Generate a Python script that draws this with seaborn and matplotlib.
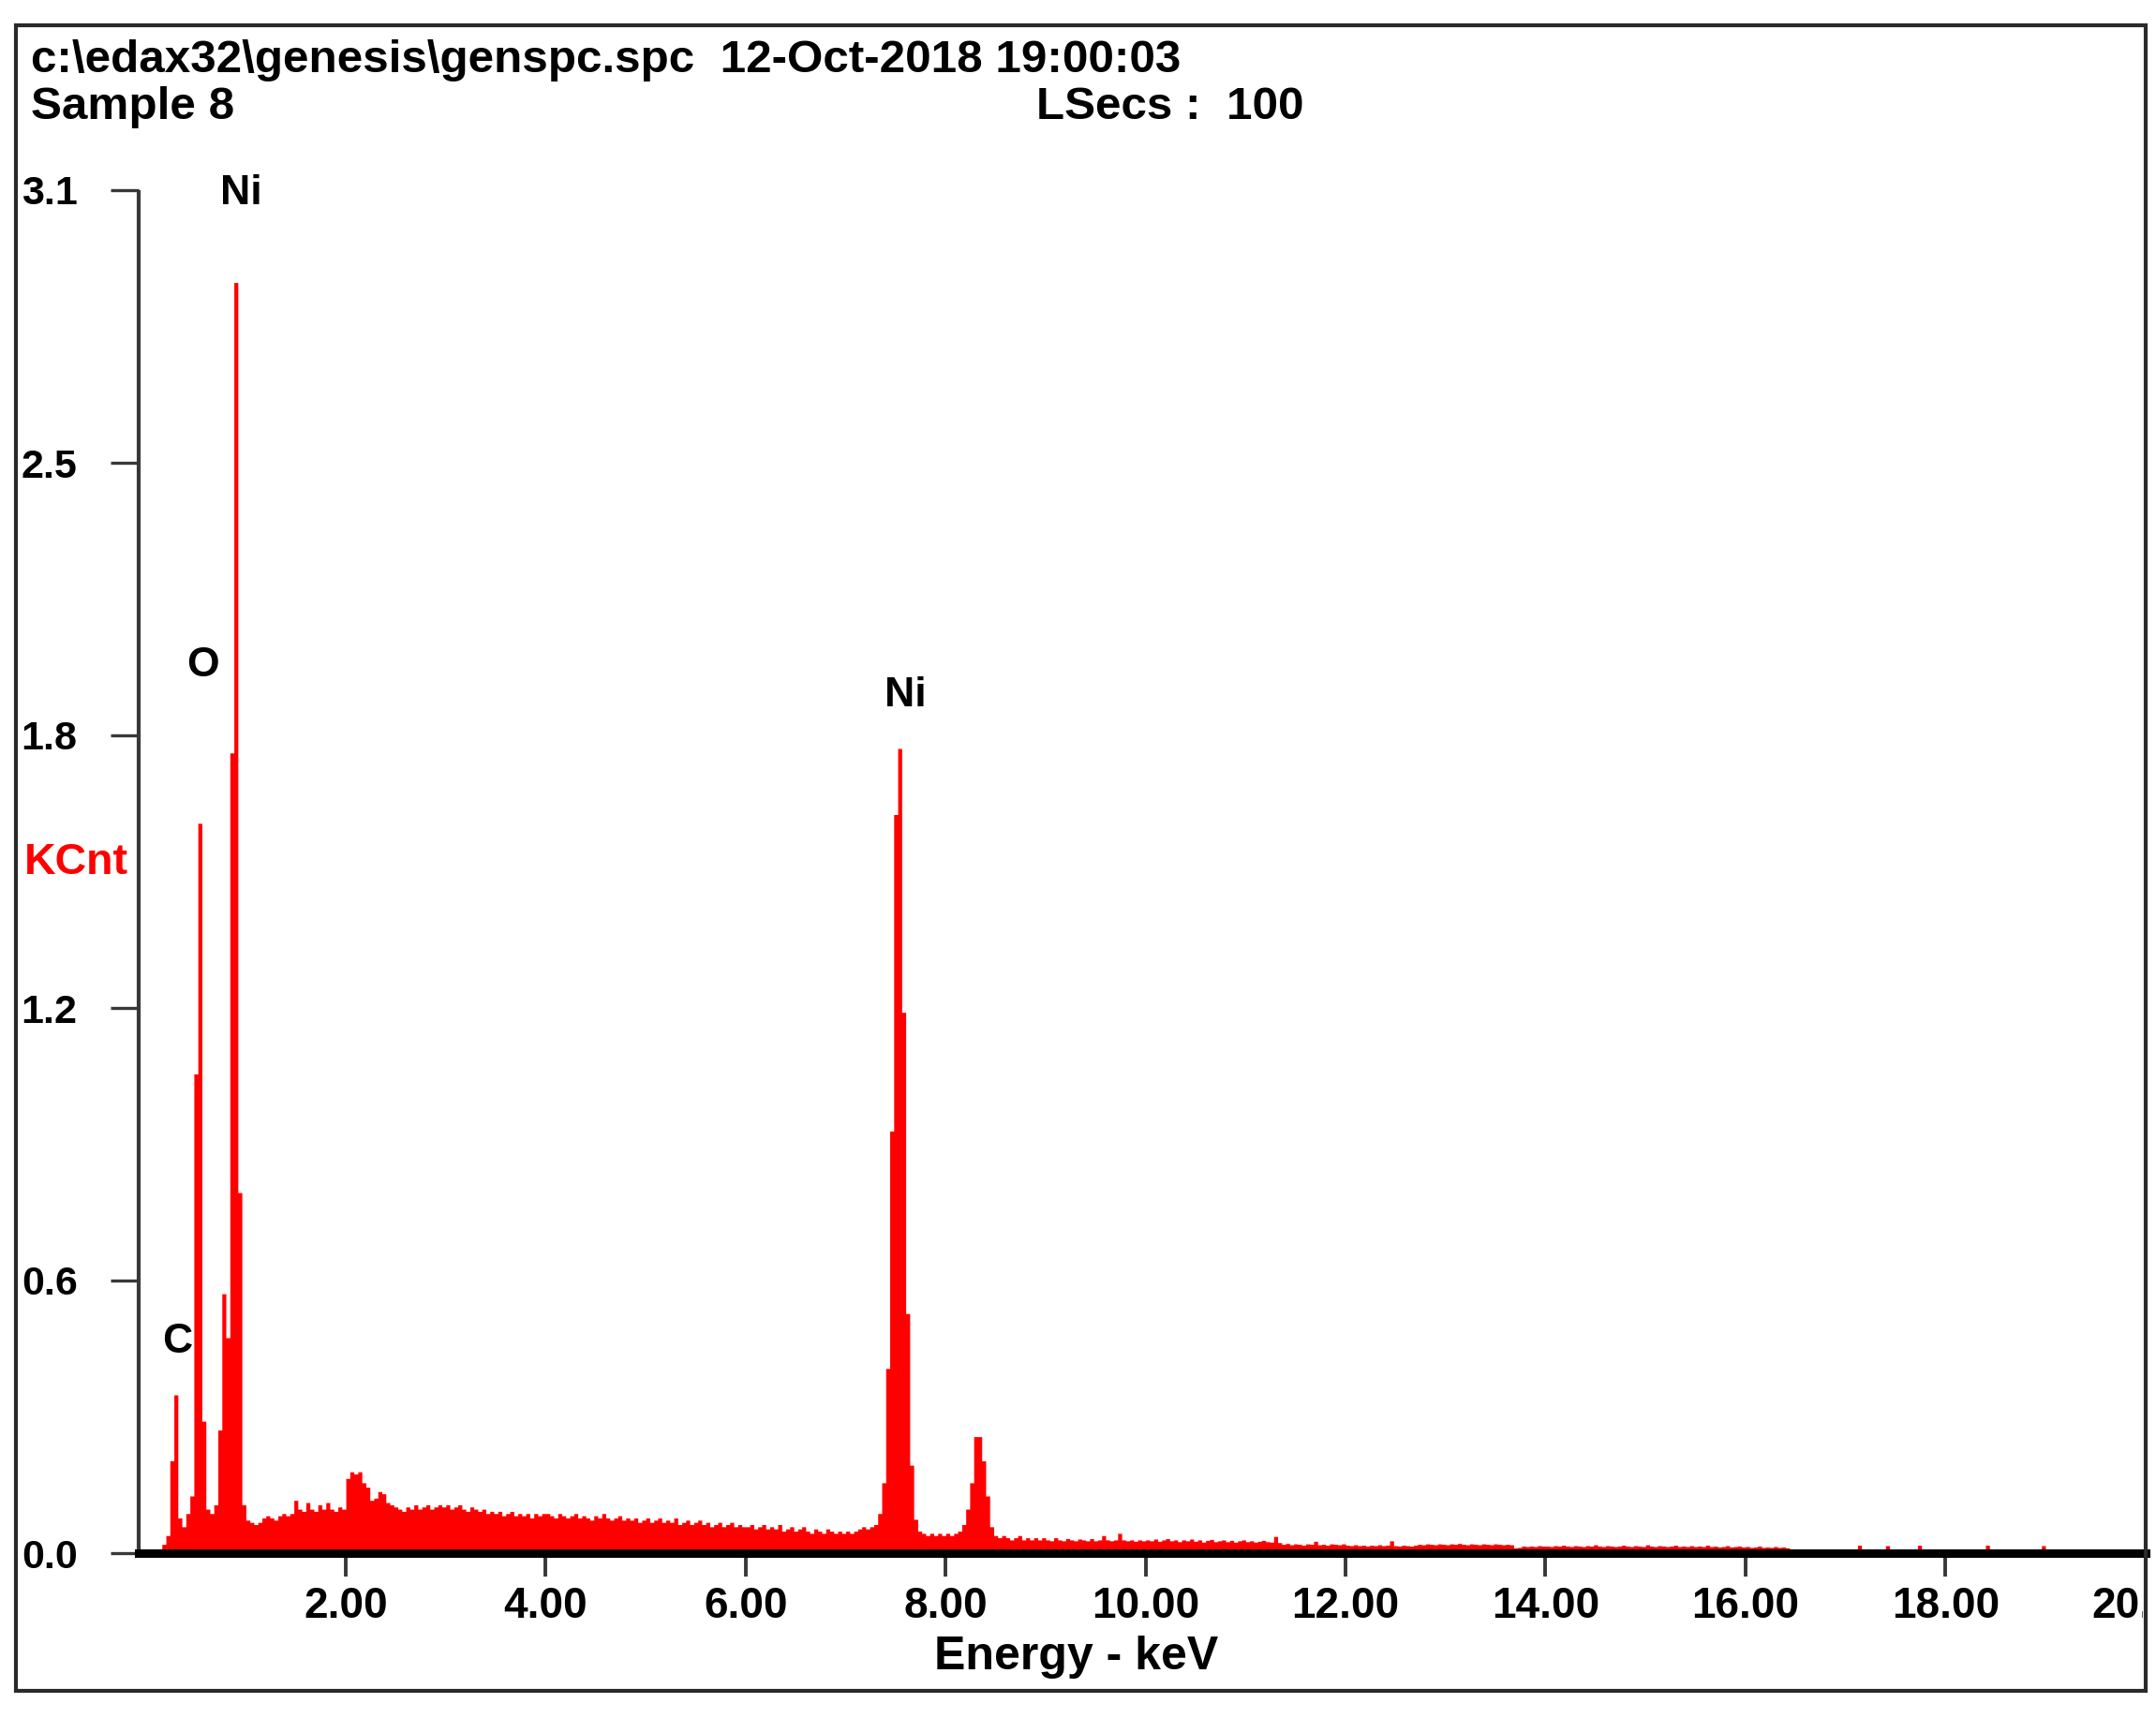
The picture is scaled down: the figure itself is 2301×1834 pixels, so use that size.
import numpy as np
import pandas as pd
import matplotlib
matplotlib.use("Agg")
import matplotlib.pyplot as plt
import seaborn as sns
from matplotlib.patches import Rectangle
from matplotlib.transforms import Bbox, TransformedBbox

# ---------------- data (KCnt per 0.04 keV channel) ----------------
CHANNEL_KEV = 0.04

kcnt_00_02 = [0, 0, 0, 0.005, 0.02, 0.04, 0.21, 0.36, 0.08, 0.06,
              0.09, 0.13, 1.09, 1.66, 0.30, 0.10, 0.09, 0.11, 0.28, 0.59,
              0.49, 1.82, 2.89, 0.82, 0.11, 0.075, 0.07, 0.065, 0.07, 0.08,
              0.085, 0.08, 0.075, 0.085, 0.09, 0.085, 0.09, 0.12, 0.10, 0.095,
              0.115, 0.10, 0.095, 0.11, 0.10, 0.115, 0.10, 0.095, 0.105, 0.10]
kcnt_02_04 = [0.17, 0.185, 0.18, 0.185, 0.16, 0.15, 0.12, 0.125, 0.14, 0.135,
              0.115, 0.11, 0.105, 0.10, 0.095, 0.105, 0.10, 0.11, 0.10, 0.105,
              0.11, 0.10, 0.105, 0.11, 0.105, 0.11, 0.10, 0.105, 0.11, 0.10,
              0.095, 0.105, 0.10, 0.095, 0.10, 0.09, 0.095, 0.09, 0.095, 0.085,
              0.09, 0.095, 0.085, 0.09, 0.085, 0.09, 0.08, 0.09, 0.085, 0.09]
kcnt_04_06 = [0.09, 0.085, 0.08, 0.09, 0.085, 0.08, 0.085, 0.09, 0.08, 0.085,
              0.08, 0.075, 0.085, 0.08, 0.09, 0.08, 0.075, 0.08, 0.085, 0.075,
              0.08, 0.075, 0.08, 0.07, 0.075, 0.08, 0.07, 0.075, 0.08, 0.07,
              0.075, 0.07, 0.08, 0.065, 0.07, 0.075, 0.065, 0.07, 0.075, 0.065,
              0.07, 0.06, 0.065, 0.07, 0.06, 0.065, 0.07, 0.06, 0.065, 0.06]
kcnt_06_08 = [0.06, 0.065, 0.055, 0.06, 0.065, 0.055, 0.06, 0.055, 0.065, 0.05,
              0.055, 0.06, 0.05, 0.055, 0.06, 0.05, 0.045, 0.055, 0.05, 0.045,
              0.055, 0.05, 0.045, 0.05, 0.045, 0.05, 0.045, 0.05, 0.055, 0.06,
              0.055, 0.06, 0.065, 0.09, 0.16, 0.42, 0.96, 1.68, 1.83, 1.23,
              0.545, 0.20, 0.077, 0.05, 0.045, 0.04, 0.045, 0.04, 0.045, 0.04]
kcnt_08_10 = [0.045, 0.04, 0.045, 0.05, 0.065, 0.10, 0.16, 0.265, 0.265, 0.21,
              0.13, 0.06, 0.04, 0.035, 0.04, 0.035, 0.03, 0.035, 0.04, 0.03,
              0.035, 0.03, 0.035, 0.03, 0.035, 0.03, 0.028, 0.035, 0.03, 0.028,
              0.033, 0.03, 0.028, 0.032, 0.03, 0.028, 0.033, 0.028, 0.03, 0.04,
              0.03, 0.028, 0.03, 0.045, 0.03, 0.028, 0.03, 0.027, 0.03, 0.028]
kcnt_10_12 = [0.03, 0.028, 0.032, 0.027, 0.03, 0.033, 0.028, 0.03, 0.026, 0.03,
              0.028, 0.032, 0.027, 0.03, 0.025, 0.029, 0.031, 0.026, 0.028, 0.03,
              0.026, 0.029, 0.025, 0.028, 0.03, 0.026, 0.028, 0.025, 0.027, 0.029,
              0.026, 0.025, 0.038, 0.024, 0.02, 0.022, 0.019, 0.021, 0.02, 0.018,
              0.021, 0.02, 0.027, 0.019, 0.02, 0.018, 0.021, 0.02, 0.019, 0.021]
kcnt_12_14 = [0.018, 0.017, 0.019, 0.017, 0.018, 0.016, 0.018, 0.017, 0.019, 0.017,
              0.018, 0.028, 0.017, 0.016, 0.018, 0.017, 0.016, 0.018, 0.02, 0.019,
              0.021, 0.02, 0.019, 0.021, 0.02, 0.019, 0.021, 0.02, 0.022, 0.02,
              0.019, 0.021, 0.02, 0.019, 0.021, 0.02, 0.019, 0.021, 0.02, 0.019,
              0.02, 0.019, 0.012, 0.013, 0.016, 0.015, 0.016, 0.015, 0.017, 0.016]
kcnt_14_16 = [0.016, 0.015, 0.017, 0.016, 0.018, 0.016, 0.015, 0.017, 0.016, 0.015,
              0.017, 0.016, 0.019, 0.016, 0.015, 0.017, 0.016, 0.015, 0.016, 0.018,
              0.016, 0.015, 0.017, 0.016, 0.015, 0.019, 0.016, 0.015, 0.017, 0.016,
              0.015, 0.016, 0.018, 0.015, 0.016, 0.015, 0.017, 0.015, 0.016, 0.015,
              0.018, 0.015, 0.016, 0.014, 0.015, 0.017, 0.014, 0.015, 0.016, 0.014]
kcnt_16_18 = [0.015, 0.013, 0.014, 0.016, 0.013, 0.014, 0.013, 0.015, 0.013, 0.014,
              0.012, 0, 0, 0, 0, 0, 0, 0, 0, 0,
              0, 0, 0, 0, 0, 0, 0, 0, 0.018, 0,
              0, 0, 0, 0, 0, 0.017, 0, 0, 0, 0,
              0, 0, 0, 0.018, 0, 0, 0, 0, 0, 0]
kcnt_18_20 = [0, 0, 0, 0, 0, 0, 0, 0, 0, 0,
              0.018, 0, 0, 0, 0, 0, 0, 0, 0, 0,
              0, 0, 0, 0, 0.017, 0, 0, 0, 0, 0,
              0, 0, 0, 0, 0, 0, 0, 0, 0, 0,
              0, 0, 0, 0, 0, 0, 0, 0, 0, 0]

ytick_values = [0.0, 0.62, 1.24, 1.86, 2.48, 3.1]
ytick_labels = ["0.0", "0.6", "1.2", "1.8", "2.5", "3.1"]
xtick_values = [2, 4, 6, 8, 10, 12, 14, 16, 18, 20]
xtick_labels = ["2.00", "4.00", "6.00", "8.00", "10.00",
                "12.00", "14.00", "16.00", "18.00", "20.00"]

element_labels = ["Ni", "O", "C", "Ni"]
element_x_kev = [0.95, 0.565, 0.312, 7.60]
element_y_kcnt = [3.068, 1.994, 0.455, 1.926]

header_line1 = "c:\\edax32\\genesis\\genspc.spc  12-Oct-2018 19:00:03"
header_sample = "Sample 8"
header_lsecs = "LSecs :  100"
x_title = "Energy - keV"
y_title = "KCnt"

# ---------------- build ----------------
segments = [kcnt_00_02, kcnt_02_04, kcnt_04_06, kcnt_06_08, kcnt_08_10,
            kcnt_10_12, kcnt_12_14, kcnt_14_16, kcnt_16_18, kcnt_18_20]
kcnt = np.concatenate([np.asarray(s, dtype=float) for s in segments])
n_ch = len(kcnt)
df = pd.DataFrame({"energy": (np.arange(n_ch) + 0.5) * CHANNEL_KEV,
                   "kcnt": kcnt})

sns.set_theme(style="white")
plt.rcParams['font.family'] = ['Liberation Sans', 'DejaVu Sans']
plt.rcParams['font.weight'] = 'bold'

W, H = 2301, 1834
fig = plt.figure(figsize=(W / 100, H / 100), dpi=100)
fig.patch.set_facecolor("white")

ax_left, ax_right = 148 / W, 2289.7 / W
ax_bottom, ax_top = 1 - 1658 / H, 1 - 203 / H
ax = fig.add_axes([ax_left, ax_bottom, ax_right - ax_left, ax_top - ax_bottom])
ax.set_facecolor("white")

sns.histplot(data=df, x="energy", weights="kcnt", binwidth=CHANNEL_KEV,
             binrange=(0, n_ch * CHANNEL_KEV), element="step", fill=True,
             color="#ff0000", alpha=1.0, linewidth=0, ax=ax, zorder=1)

ax.set_xlim(-0.072, 20.0)
ax.set_ylim(0, 3.1)
ax.set_xlabel("")
ax.set_ylabel("")

for side in ["top", "right"]:
    ax.spines[side].set_visible(False)
ax.spines["bottom"].set_color("black")
ax.spines["bottom"].set_linewidth(6.5)
ax.spines["bottom"].set_zorder(5)
ax.spines["left"].set_color("#383838")
ax.spines["left"].set_linewidth(3)
ax.spines["left"].set_zorder(5)
ax.spines["left"].set_capstyle("butt")

ax.set_yticks(ytick_values)
ax.set_yticklabels(ytick_labels)
ax.set_xticks(xtick_values)
ax.set_xticklabels(xtick_labels)
ax.tick_params(axis="y", direction="out", length=21.6, width=2.4, color="#383838",
               pad=25.5, labelsize=31, labelcolor="black", left=True)
ax.tick_params(axis="x", direction="out", length=18, width=2.8, color="#383838",
               pad=7, labelsize=33, labelcolor="black", bottom=True)
for lbl in ax.get_xticklabels() + ax.get_yticklabels():
    lbl.set_fontweight("bold")
ax.grid(False)

# clip tick labels to the outer frame (the 20.00 label is cut in the original)
clip_bb = TransformedBbox(Bbox([[0, 0], [2287 / W, 1]]), fig.transFigure)
for t in ax.xaxis.get_major_ticks():
    t.label1.set_clip_on(True)
    t.label1.set_clip_box(clip_bb)

# element labels
for lab, xk, yk in zip(element_labels, element_x_kev, element_y_kcnt):
    ax.text(xk, yk, lab, ha="center", va="baseline", fontsize=32,
            fontweight="bold", color="black", clip_on=False)

# header and axis titles
fig.text(33 / W, 1 - 77 / H, header_line1, ha="left", va="baseline",
         fontsize=35.6, fontweight="bold", color="black")
fig.text(33 / W, 1 - 127 / H, header_sample, ha="left", va="baseline",
         fontsize=35.6, fontweight="bold", color="black")
fig.text(1106 / W, 1 - 127 / H, header_lsecs, ha="left", va="baseline",
         fontsize=35.6, fontweight="bold", color="black")
fig.text(1149 / W, 1 - 1782 / H, x_title, ha="center", va="baseline",
         fontsize=36, fontweight="bold", color="black")
fig.text(26 / W, 1 - 933 / H, y_title, ha="left", va="baseline",
         fontsize=33.5, fontweight="bold", color="#ff0000")

# outer frame
frame = Rectangle((17 / W, 1 - 1805 / H), (2290 - 17) / W, (1805 - 27) / H,
                  transform=fig.transFigure, fill=False, edgecolor="#2a2a2a",
                  linewidth=3, zorder=10)
fig.patches.append(frame)

fig.savefig("out.png", dpi=100, facecolor="white")
